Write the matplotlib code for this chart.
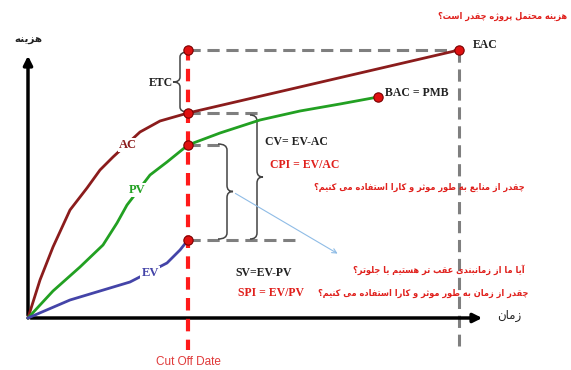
import numpy as np
import matplotlib
matplotlib.use('Agg')
import matplotlib.pyplot as plt
from matplotlib.path import Path
import matplotlib.patches as mpatches

# ---- data (time / cost units, origin at project start) ----
ac_t = [0, 12, 25, 42, 59, 72, 85, 112, 132, 160, 431]
ac_c = [0, 38, 71, 108, 130, 148, 161, 186, 197, 205, 268]
pv_t = [0, 25, 52, 75, 89, 99, 122, 139, 160, 192, 232, 272, 312, 350]
pv_c = [0, 27, 51, 73, 95, 113, 143, 156, 173, 185, 198, 207, 214, 221]
ev_t = [0, 42, 102, 139, 152, 160]
ev_c = [0, 18, 36, 55, 68, 78]

cutoff_t = 160
eac_t, eac_c = 431, 268
bac_t, bac_c = 350, 221
ac_now, pv_now, ev_now = 205, 173, 78

# ---- minimal Persian shaping (presentation forms) ----
FORMS = {
    'ا': ('\uFE8D', '\uFE8E'), 'آ': ('\uFE81', '\uFE82'),
    'د': ('\uFEA9', '\uFEAA'), 'ذ': ('\uFEAB', '\uFEAC'),
    'ر': ('\uFEAD', '\uFEAE'), 'ز': ('\uFEAF', '\uFEB0'),
    'ژ': ('\uFB8A', '\uFB8B'), 'و': ('\uFEED', '\uFEEE'),
    'ب': ('\uFE8F', '\uFE90', '\uFE91', '\uFE92'),
    'پ': ('\uFB56', '\uFB57', '\uFB58', '\uFB59'),
    'ت': ('\uFE95', '\uFE96', '\uFE97', '\uFE98'),
    'ث': ('\uFE99', '\uFE9A', '\uFE9B', '\uFE9C'),
    'ج': ('\uFE9D', '\uFE9E', '\uFE9F', '\uFEA0'),
    'چ': ('\uFB7A', '\uFB7B', '\uFB7C', '\uFB7D'),
    'ح': ('\uFEA1', '\uFEA2', '\uFEA3', '\uFEA4'),
    'س': ('\uFEB1', '\uFEB2', '\uFEB3', '\uFEB4'),
    'ط': ('\uFEC1', '\uFEC2', '\uFEC3', '\uFEC4'),
    'ع': ('\uFEC9', '\uFECA', '\uFECB', '\uFECC'),
    'ف': ('\uFED1', '\uFED2', '\uFED3', '\uFED4'),
    'ق': ('\uFED5', '\uFED6', '\uFED7', '\uFED8'),
    'ک': ('\uFB8E', '\uFB8F', '\uFB90', '\uFB91'),
    'ل': ('\uFEDD', '\uFEDE', '\uFEDF', '\uFEE0'),
    'م': ('\uFEE1', '\uFEE2', '\uFEE3', '\uFEE4'),
    'ن': ('\uFEE5', '\uFEE6', '\uFEE7', '\uFEE8'),
    'ه': ('\uFEE9', '\uFEEA', '\uFEEB', '\uFEEC'),
    'ی': ('\uFBFC', '\uFBFD', '\uFBFE', '\uFBFF'),
}


def fa(text):
    out = []
    for i, ch in enumerate(text):
        if ch not in FORMS:
            out.append(ch)
            continue
        prev = text[i - 1] if i > 0 else ''
        nxt = text[i + 1] if i + 1 < len(text) else ''
        join_prev = prev in FORMS and len(FORMS[prev]) == 4
        join_next = len(FORMS[ch]) == 4 and nxt in FORMS
        f = FORMS[ch]
        if join_prev and join_next:
            out.append(f[3])
        elif join_prev:
            out.append(f[1])
        elif join_next:
            out.append(f[2])
        else:
            out.append(f[0])
    return ''.join(out)[::-1]


def brace(ax, t_end, t_body, t_tip, c_top, c_bot, r=6, **kw):
    mid = (c_top + c_bot) / 2
    verts = [(t_end, c_top), (t_body, c_top), (t_body, c_top - r),
             (t_body, mid + r),
             (t_body, mid), (t_tip, mid),
             (t_body, mid), (t_body, mid - r),
             (t_body, c_bot + r),
             (t_body, c_bot), (t_end, c_bot)]
    codes = [Path.MOVETO, Path.CURVE3, Path.CURVE3, Path.LINETO,
             Path.CURVE3, Path.CURVE3, Path.CURVE3, Path.CURVE3,
             Path.LINETO, Path.CURVE3, Path.CURVE3]
    ax.add_patch(mpatches.PathPatch(Path(verts, codes), fill=False, **kw))


fig = plt.figure(figsize=(5.71, 3.70), dpi=100)
ax = fig.add_axes([0, 0, 1, 1])
ax.set_xlim(-28, 543)
ax.set_ylim(-52, 318)
ax.axis('off')

serif = 'Liberation Serif'
fafont = 'DejaVu Sans'
red = '#e0201c'
gray = '#7f7f7f'
dash = (0, (4, 2.2))

# axes arrows
ax.annotate('', xy=(0, 265), xytext=(0, 0),
            arrowprops=dict(arrowstyle='-|>', lw=2.5, color='black', mutation_scale=13))
ax.annotate('', xy=(457, 0), xytext=(0, 0),
            arrowprops=dict(arrowstyle='-|>', lw=2.5, color='black', mutation_scale=13))

# gray guide lines
ax.plot([cutoff_t, eac_t], [eac_c, eac_c], color=gray, lw=2.2, ls=dash, zorder=2)
ax.plot([eac_t, eac_t], [eac_c, -28], color=gray, lw=2.2, ls=dash, zorder=2)
ax.plot([cutoff_t, 230], [ac_now, ac_now], color=gray, lw=2.2, ls=dash, zorder=2)
ax.plot([cutoff_t, 197], [pv_now, pv_now], color=gray, lw=2.2, ls=dash, zorder=2)
ax.plot([cutoff_t, 272], [ev_now, ev_now], color=gray, lw=2.2, ls=dash, zorder=2)

# braces
brace(ax, 160, 152, 145, eac_c - 2, ac_now + 1, r=5, color='#444444', lw=1.1, zorder=3)
brace(ax, 190, 199, 205, pv_now + 1, ev_now + 1, r=6, color='#444444', lw=1.1, zorder=3)
brace(ax, 222, 229, 235, ac_now - 2, ev_now + 1, r=6, color='#444444', lw=1.1, zorder=3)

# thin blue arrow
ax.annotate('', xy=(312, 63), xytext=(205, 126),
            arrowprops=dict(arrowstyle='->', lw=0.8, color='#8fbce6', mutation_scale=8))

# curves
ax.plot(ac_t, ac_c, color='#8b1c1c', lw=2, zorder=4)
ax.plot(pv_t, pv_c, color='#22a022', lw=2, zorder=4)
ax.plot(ev_t, ev_c, color='#4444a8', lw=2, zorder=4)

# cut off line
ax.plot([cutoff_t, cutoff_t], [270, -32], color='#ff1a1a', lw=3, ls=(0, (3, 2)), zorder=5)

# points
pts_t = [cutoff_t, eac_t, cutoff_t, cutoff_t, bac_t, cutoff_t]
pts_c = [eac_c, eac_c, ac_now, pv_now, bac_c, ev_now]
ax.scatter(pts_t, pts_c, s=45, color='#e01010', edgecolors='#7a0000', linewidths=0.8, zorder=6)

# curve labels
box = dict(facecolor='white', edgecolor='none', pad=1)
ax.text(100, 173, 'AC', color='#8b1c1c', fontsize=9, fontweight='bold', family=serif,
        ha='center', va='center', bbox=box, zorder=5)
ax.text(109, 128, 'PV', color='#22a022', fontsize=9, fontweight='bold', family=serif,
        ha='center', va='center', bbox=box, zorder=5)
ax.text(122, 45, 'EV', color='#4444a8', fontsize=9, fontweight='bold', family=serif,
        ha='center', va='center', bbox=box, zorder=5)

ax.text(445, 273, 'EAC', fontsize=8.5, fontweight='bold', family=serif, color='#222222',
        ha='left', va='center')
ax.text(357, 225, 'BAC = PMB', fontsize=8.5, fontweight='bold', family=serif, color='#222222',
        ha='left', va='center')
ax.text(145, 235, 'ETC', fontsize=8.5, fontweight='bold', family=serif, color='#222222',
        ha='right', va='center')

ax.text(237, 176, 'CV= EV-AC', fontsize=8.5, fontweight='bold', family=serif, color='#222222',
        ha='left', va='center')
ax.text(242, 153, 'CPI = EV/AC', fontsize=8.5, fontweight='bold', family=serif, color=red,
        ha='left', va='center')
ax.text(207, 45, 'SV=EV-PV', fontsize=8.5, fontweight='bold', family=serif, color='#222222',
        ha='left', va='center')
ax.text(210, 25, 'SPI = EV/PV', fontsize=8.5, fontweight='bold', family=serif, color=red,
        ha='left', va='center')

# Persian labels (condensed bold to fit the reference widths)
fa_kw = dict(fontsize=6.6, fontweight='bold', family=fafont, fontstretch='condensed',
             ha='right', va='center', color=red)
ax.text(0, 278, fa('هزینه'), fontsize=7.5, fontweight='bold', family=fafont,
        ha='center', va='center', color='#222222')
ax.text(469, 3, fa('زمان'), fontsize=8.5, family=fafont,
        ha='left', va='center', color='#222222')
ax.text(539, 302, fa('هزینه محتمل پروژه چقدر است؟'), **fa_kw)
ax.text(497, 131, fa('چقدر از منابع به طور موثر و کارا استفاده می کنیم؟'), **fa_kw)
ax.text(497, 48, fa('آیا ما از زمانبندی عقب تر هستیم یا جلوتر؟'), **fa_kw)
ax.text(500, 25, fa('چقدر از زمان به طور موثر و کارا استفاده می کنیم؟'), **fa_kw)

ax.text(cutoff_t, -44, 'Cut Off Date', fontsize=8.5, family='Liberation Sans',
        ha='center', va='center', color='#e03a3a')

fig.savefig('out.png', dpi=100)
